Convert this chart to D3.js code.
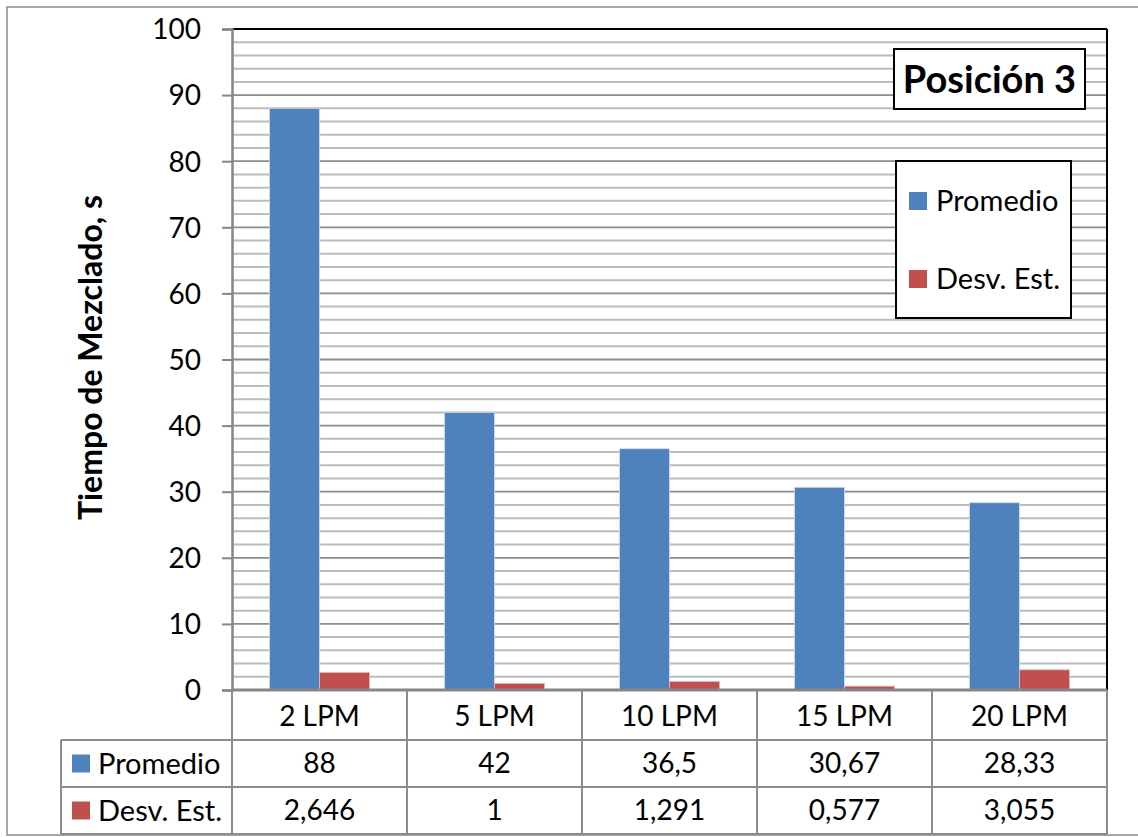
<!DOCTYPE html>
<html>
<head>
<meta charset="utf-8">
<script src="https://cdn.jsdelivr.net/npm/d3@7"></script>
<style>
  html, body { margin: 0; padding: 0; background: #ffffff; }
  svg { display: block; }
  text { font-family: Lato, "Noto Sans", sans-serif; fill: #000; }
</style>
</head>
<body>
<svg id="chart" width="1138" height="837"></svg>
<script>
// Mixing-time results for position 3
const categories = ["2 LPM", "5 LPM", "10 LPM", "15 LPM", "20 LPM"];
const seriesNames = ["Promedio", "Desv. Est."];
const promedio = [88, 42, 36.5, 30.67, 28.33];
const desvEst = [2.646, 1, 1.291, 0.577, 3.055];
const promedioLabels = ["88", "42", "36,5", "30,67", "28,33"];
const desvEstLabels = ["2,646", "1", "1,291", "0,577", "3,055"];
const yTicks = [0, 10, 20, 30, 40, 50, 60, 70, 80, 90, 100];
const yMinorTicks = d3.range(0, 101, 2);

const colors = ["#4f81bd", "#c0504d"];
const seriesValues = [promedio, desvEst];
const seriesLabels = [promedioLabels, desvEstLabels];

const svg = d3.select("#chart");
const plot = { left: 232, right: 1107, top: 29, bottom: 690 };

// outer chart frame
svg.append("rect")
  .attr("x", 7).attr("y", 7).attr("width", 1150).attr("height", 828)
  .attr("fill", "#fff").attr("stroke", "#8a8a8a").attr("stroke-width", 1.5);

const x = d3.scaleBand().domain(categories).range([plot.left, plot.right]);
// each 175px category band holds a 100px group of two bars, centred
const xInner = d3.scaleBand().domain(seriesNames).range([37.5, x.bandwidth() - 37.5]);
const y = d3.scaleLinear().domain([0, 100]).range([plot.bottom, plot.top]);

// minor gridlines
svg.append("g").selectAll("line").data(yMinorTicks.filter(v => v % 10 !== 0)).join("line")
  .attr("x1", plot.left).attr("x2", plot.right)
  .attr("y1", d => y(d)).attr("y2", d => y(d))
  .attr("stroke", "#bcbcbc").attr("stroke-width", 2);

// major gridlines
svg.append("g").selectAll("line").data(yTicks.filter(v => v > 0 && v < 100)).join("line")
  .attr("x1", plot.left).attr("x2", plot.right)
  .attr("y1", d => y(d)).attr("y2", d => y(d))
  .attr("stroke", "#8c8c8c").attr("stroke-width", 1.8);

// bars
seriesNames.forEach((name, si) => {
  svg.append("g").selectAll("rect").data(categories).join("rect")
    .attr("x", c => x(c) + xInner(name))
    .attr("width", xInner.bandwidth())
    .attr("y", (c, i) => y(seriesValues[si][i]))
    .attr("height", (c, i) => y(0) - y(seriesValues[si][i]))
    .attr("fill", colors[si])
    .attr("stroke", si === 0 ? "#d3dced" : "#e6b9b8").attr("stroke-width", 0.8);
});

// plot frame: black top and right edges
svg.append("line").attr("x1", plot.left).attr("x2", plot.right).attr("y1", plot.top).attr("y2", plot.top)
  .attr("stroke", "#000").attr("stroke-width", 2);
svg.append("line").attr("x1", plot.right).attr("x2", plot.right).attr("y1", plot.top).attr("y2", plot.bottom)
  .attr("stroke", "#000").attr("stroke-width", 2);

// y axis
const yAxis = d3.axisLeft(y).tickValues(yTicks).tickSize(10).tickPadding(0).tickFormat(d3.format("d"));
const yg = svg.append("g").attr("transform", `translate(${plot.left},0)`).call(yAxis);
yg.select(".domain").attr("stroke", "#868686").attr("stroke-width", 2.5);
yg.selectAll(".tick line").attr("stroke", "#868686").attr("stroke-width", 2);
yg.selectAll(".tick text")
  .attr("x", -31).attr("dy", "0.35em")
  .style("font-family", "Lato, sans-serif").style("font-size", "28px").attr("fill", "#000");

// y axis title
svg.append("text")
  .attr("transform", `translate(102,${(plot.top + plot.bottom) / 2 - 2}) rotate(-90)`)
  .attr("text-anchor", "middle")
  .style("font-size", "32px").style("font-weight", "bold")
  .text("Tiempo de Mezclado, s");

// data table below the plot
const rowTop = [plot.bottom, 740, 787];
const rowBottom = 834;
const gridColor = "#8c8c8c";
const table = svg.append("g");

// x axis line
table.append("line").attr("x1", plot.left).attr("x2", plot.right).attr("y1", plot.bottom).attr("y2", plot.bottom)
  .attr("stroke", "#868686").attr("stroke-width", 3);

// horizontal rules
[740, 787, rowBottom].forEach(yy => {
  table.append("line").attr("x1", 61).attr("x2", plot.right).attr("y1", yy).attr("y2", yy)
    .attr("stroke", gridColor).attr("stroke-width", 2);
});
// vertical rules
const colEdges = categories.map(c => x(c)).concat([plot.right]);
colEdges.forEach(xx => {
  table.append("line").attr("x1", xx).attr("x2", xx).attr("y1", plot.bottom).attr("y2", rowBottom)
    .attr("stroke", gridColor).attr("stroke-width", 2);
});
table.append("line").attr("x1", 61).attr("x2", 61).attr("y1", 740).attr("y2", rowBottom)
  .attr("stroke", gridColor).attr("stroke-width", 2);

// category labels
table.selectAll("text.cat").data(categories).join("text")
  .attr("class", "cat")
  .attr("x", c => x(c) + x.bandwidth() / 2).attr("y", 716).attr("dy", "0.35em")
  .attr("text-anchor", "middle").style("font-size", "28px")
  .text(c => c);

// series rows
seriesNames.forEach((name, si) => {
  const cy = (rowTop[si + 1] + (si === 0 ? 787 : rowBottom)) / 2;
  table.append("rect").attr("x", 72).attr("y", cy - 9).attr("width", 18).attr("height", 18).attr("fill", colors[si]);
  table.append("text").attr("x", 98).attr("y", cy).attr("dy", "0.35em")
    .style("font-size", "29px").text(name);
  table.selectAll(`text.v${si}`).data(categories).join("text")
    .attr("class", `v${si}`)
    .attr("x", c => x(c) + x.bandwidth() / 2).attr("y", cy).attr("dy", "0.35em")
    .attr("text-anchor", "middle").style("font-size", "28px")
    .text((c, i) => seriesLabels[si][i]);
});

// chart title box
const titleBox = { x: 894, y: 49, w: 191, h: 60 };
svg.append("rect").attr("x", titleBox.x).attr("y", titleBox.y).attr("width", titleBox.w).attr("height", titleBox.h)
  .attr("fill", "#fff").attr("stroke", "#000").attr("stroke-width", 2);
svg.append("text").attr("x", titleBox.x + titleBox.w / 2).attr("y", titleBox.y + titleBox.h / 2).attr("dy", "0.36em")
  .attr("text-anchor", "middle").style("font-size", "38px").style("font-weight", "bold")
  .text("Posición 3");

// legend
const legendBox = { x: 896, y: 161, w: 175, h: 157 };
svg.append("rect").attr("x", legendBox.x).attr("y", legendBox.y).attr("width", legendBox.w).attr("height", legendBox.h)
  .attr("fill", "#fff").attr("stroke", "#000").attr("stroke-width", 2);
const legendY = d3.scalePoint().domain(seriesNames).range([201, 279]);
seriesNames.forEach((name, si) => {
  svg.append("rect").attr("x", 909).attr("y", legendY(name) - 9).attr("width", 18).attr("height", 18).attr("fill", colors[si]);
  svg.append("text").attr("x", 936).attr("y", legendY(name)).attr("dy", "0.35em")
    .style("font-size", "29px").text(name);
});
</script>
</body>
</html>
